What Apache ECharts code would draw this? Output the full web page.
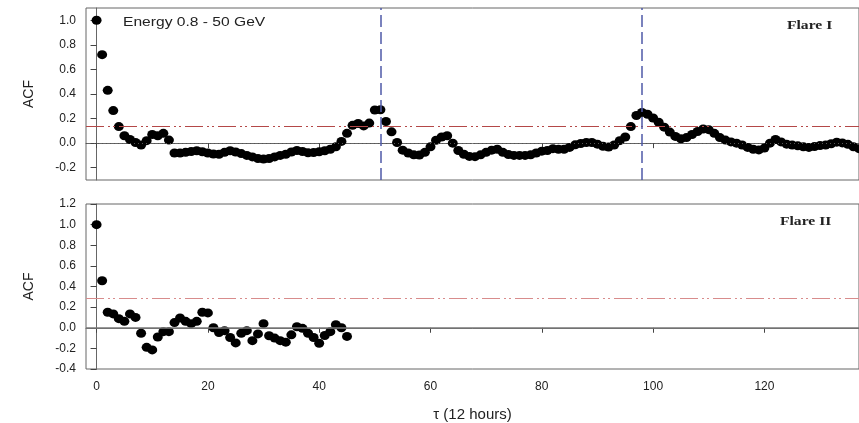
<!DOCTYPE html>
<html>
<head>
<meta charset="utf-8">
<script src="https://cdn.jsdelivr.net/npm/echarts@6/dist/echarts.min.js"></script>
<style>
  html, body { margin: 0; padding: 0; background: #fff; }
  #chart { width: 859px; height: 423px; }
</style>
</head>
<body>
<div id="chart"></div>
<script>
// ACF values per lag (tau in units of 12 hours)
var acfFlare1 = [
    1.0, 0.72, 0.43, 0.265, 0.135, 0.06, 0.03, 0.005, -0.015, 0.02,
    0.07, 0.06, 0.08, 0.025, -0.08, -0.08, -0.075, -0.068, -0.062, -0.07,
    -0.08, -0.088, -0.09, -0.075, -0.062, -0.072, -0.085, -0.1, -0.112, -0.125,
    -0.13, -0.125, -0.112, -0.1, -0.09, -0.072, -0.06, -0.068, -0.078, -0.077,
    -0.07, -0.062, -0.05, -0.03, 0.014, 0.08, 0.145, 0.16, 0.14, 0.163,
    0.27, 0.272, 0.176, 0.092, 0.005, -0.057, -0.08, -0.095, -0.097, -0.075,
    -0.03, 0.024, 0.05, 0.06, 0.0, -0.06, -0.09, -0.108, -0.11, -0.095,
    -0.075, -0.057, -0.05, -0.075, -0.092, -0.1, -0.1, -0.1, -0.095, -0.08,
    -0.065, -0.06, -0.045, -0.05, -0.05, -0.035, -0.014, -0.003, 0.005, 0.005,
    -0.008, -0.025, -0.032, -0.015, 0.02, 0.05, 0.135, 0.225, 0.25, 0.235,
    0.205, 0.17, 0.13, 0.09, 0.055, 0.035, 0.045, 0.07, 0.095, 0.115,
    0.11, 0.08, 0.045, 0.025, 0.01, 0.0, -0.015, -0.035, -0.05, -0.055,
    -0.04, 0.0, 0.03, 0.01, -0.008, -0.016, -0.022, -0.03, -0.035, -0.028,
    -0.02, -0.016, -0.005, 0.008, 0.002, -0.01, -0.03, -0.045
];
var acfFlare2 = [
    1.0, 0.456, 0.15, 0.134, 0.088, 0.062, 0.134, 0.1, -0.053, -0.19,
    -0.215, -0.09, -0.038, -0.038, 0.05, 0.094, 0.062, 0.04, 0.062, 0.15,
    0.144, 0.0, -0.047, -0.028, -0.094, -0.147, -0.053, -0.028, -0.125, -0.06,
    0.04, -0.078, -0.1, -0.125, -0.14, -0.069, 0.01, -0.006, -0.053, -0.094,
    -0.15, -0.075, -0.038, 0.03, 0.0, -0.084
];
var xTicks = [0, 20, 40, 60, 80, 100, 120];
var yTicksTop = [-0.2, 0.0, 0.2, 0.4, 0.6, 0.8, 1.0];
var confLevels = [0.14, 0.29];   // red dash-dot significance lines
var peakLags = [51, 98];         // blue dashed markers in flare I

function toPoints(values) {
    var pts = [];
    for (var i = 0; i < values.length; i++) {
        pts.push([i, values[i]]);
    }
    return pts;
}

var chart = echarts.init(document.getElementById('chart'));
var labelFont = {color: '#222', fontFamily: 'Liberation Sans', fontSize: 12};
var frame = {lineStyle: {color: '#666', width: 1}};
var dashDot = [18, 4, 2, 3, 2, 4];
var peakLine = {color: '#4f5aa8', width: 1.5, type: [12, 5]};

var options = {
    animation: false,
    grid: [
        {left: 86, top: 8, right: -2, height: 172, show: true, borderColor: '#666', borderWidth: 1},
        {left: 86, top: 204, right: -2, height: 170, show: true, borderColor: '#666', borderWidth: 1}
    ],
    xAxis: [{
        gridIndex: 0, type: 'value', min: -1.9, max: 137,
        axisLine: frame,
        axisTick: {show: true, length: 5, customValues: xTicks, lineStyle: {color: '#444'}},
        axisLabel: {show: false, customValues: xTicks},
        splitLine: {show: false}
    }, {
        gridIndex: 1, type: 'value', min: -1.9, max: 137,
        axisLine: frame,
        axisTick: {show: true, length: 5, customValues: xTicks, lineStyle: {color: '#444'}},
        axisLabel: Object.assign({margin: 12, customValues: xTicks}, labelFont),
        splitLine: {show: false},
        name: '\u03c4 (12 hours)', nameLocation: 'middle', nameGap: 38,
        nameTextStyle: {color: '#222', fontFamily: 'Liberation Sans', fontSize: 15}
    }],
    yAxis: [{
        gridIndex: 0, type: 'value', min: -0.3, max: 1.1,
        axisLine: frame,
        axisTick: {show: true, length: 6, customValues: yTicksTop, lineStyle: {color: '#444'}},
        axisLabel: Object.assign({margin: 10, customValues: yTicksTop, formatter: function (v) { return v.toFixed(1); }}, labelFont),
        splitLine: {show: false},
        name: 'ACF', nameLocation: 'middle', nameGap: 50, nameRotate: 90,
        nameTextStyle: {color: '#222', fontFamily: 'Liberation Sans', fontSize: 14}
    }, {
        gridIndex: 1, type: 'value', min: -0.4, max: 1.2, interval: 0.2,
        axisLine: frame,
        axisTick: {show: true, length: 6, lineStyle: {color: '#444'}},
        axisLabel: Object.assign({margin: 10, formatter: function (v) { return v.toFixed(1); }}, labelFont),
        splitLine: {show: false},
        name: 'ACF', nameLocation: 'middle', nameGap: 50, nameRotate: 90,
        nameTextStyle: {color: '#222', fontFamily: 'Liberation Sans', fontSize: 14}
    }],
    series: [{
        name: 'Flare I', type: 'scatter', xAxisIndex: 0, yAxisIndex: 0,
        data: toPoints(acfFlare1), symbolSize: [10, 9],
        itemStyle: {color: '#000', opacity: 1},
        markLine: {
            silent: true, symbol: 'none', label: {show: false},
            data: [
                {yAxis: 0, lineStyle: {color: '#555', width: 1, type: [1, 3]}},
                {yAxis: confLevels[0], lineStyle: {color: '#b44848', width: 1, type: dashDot}},
                {xAxis: peakLags[0], lineStyle: peakLine},
                {xAxis: peakLags[1], lineStyle: peakLine}
            ]
        }
    }, {
        name: 'Flare II', type: 'scatter', xAxisIndex: 1, yAxisIndex: 1,
        data: toPoints(acfFlare2), symbolSize: [10, 9],
        itemStyle: {color: '#000', opacity: 1},
        markLine: {
            silent: true, symbol: 'none', label: {show: false},
            data: [
                {yAxis: 0, lineStyle: {color: '#777', width: 1.5, type: 'solid'}},
                {yAxis: confLevels[1], lineStyle: {color: '#d88c8c', width: 1.2, type: dashDot}}
            ]
        }
    }],
    graphic: [{
        type: 'text', left: 123, top: 17, scaleX: 1.3,
        style: {text: 'Energy 0.8 - 50 GeV', fill: '#222', font: '12px "Liberation Sans"'}
    }, {
        type: 'text', left: 787, top: 19, scaleX: 1.2,
        style: {text: 'Flare I', fill: '#222', font: 'bold 13px "Liberation Serif"'}
    }, {
        type: 'text', left: 780, top: 215, scaleX: 1.2,
        style: {text: 'Flare II', fill: '#222', font: 'bold 13px "Liberation Serif"'}
    }]
};
chart.setOption(options);
window.onresize = function () {
    chart.resize();
};
</script>
</body>
</html>
